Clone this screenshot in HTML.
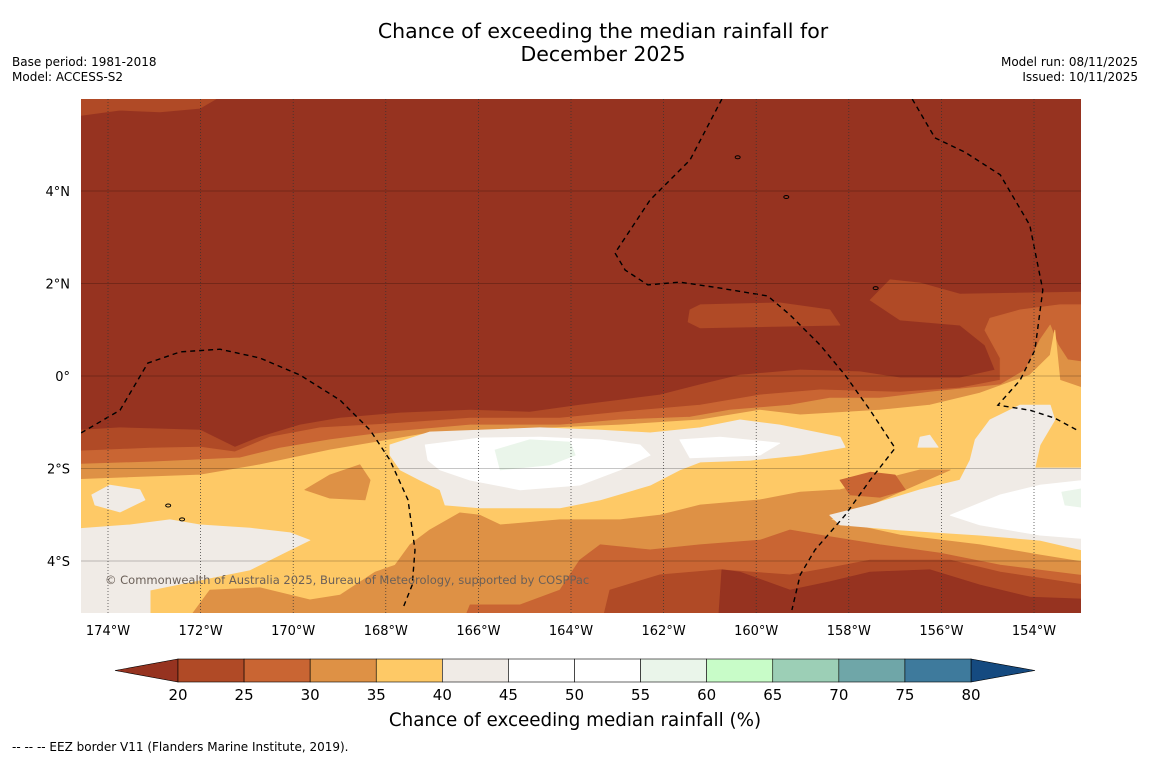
<!DOCTYPE html>
<html><head><meta charset="utf-8"><style>
body{margin:0;background:#fff;font-family:"DejaVu Sans","Liberation Sans",sans-serif;}
svg text{font-family:"DejaVu Sans","Liberation Sans",sans-serif;}
</style></head><body>
<svg id="chart" width="1150" height="758" xmlns="http://www.w3.org/2000/svg">
<rect x="0" y="0" width="1150" height="758" fill="#fff"/>
<text x="603" y="38" text-anchor="middle" font-size="20.5">Chance of exceeding the median rainfall for</text>
<text x="603" y="61" text-anchor="middle" font-size="20.5">December 2025</text>
<text x="12" y="66" font-size="12">Base period: 1981-2018</text>
<text x="12" y="81" font-size="12">Model: ACCESS-S2</text>
<text x="1138" y="66" font-size="12" text-anchor="end">Model run: 08/11/2025</text>
<text x="1138" y="81" font-size="12" text-anchor="end">Issued: 10/11/2025</text>
<defs><clipPath id="mapclip"><rect x="81" y="99" width="1000" height="514"/></clipPath></defs>
<g id="map" clip-path="url(#mapclip)"></g>
<g id="grid"></g>
<g id="axes"></g>
<text x="105" y="584" font-size="11.5" fill="#6b6058">© Commonwealth of Australia 2025, Bureau of Meteorology, supported by COSPPac</text>
<g id="cbar"></g>
<text x="575" y="726" text-anchor="middle" font-size="18.3">Chance of exceeding median rainfall (%)</text>
<text x="12" y="751" font-size="12">--  --  -- EEZ border V11 (Flanders Marine Institute, 2019).</text>
</svg>
<script>
const levels=[20,25,30,35,40,45,50,55,60,65,70,75,80];
const levelColors=["#b04a26","#c96533","#de9145","#fec966","#f0ebe6","#ffffff","#ffffff","#eaf5ea","#c8fcc8","#9ccfb6","#6fa6a8","#3e7a9c"];
const underColor="#963320", overColor="#154a80";
const lonTicks=[-174,-172,-170,-168,-166,-164,-162,-160,-158,-156,-154];
const latTicks=[4,2,0,-2,-4];
const p20=[[-174.58,-1.17],[-173.74,-1.12],[-172.01,-1.17],[-171.26,-1.54],[-170.72,-1.32],[-169.85,-1.06],[-168.99,-0.91],[-167.69,-0.80],[-166.18,-0.74],[-164.89,-0.78],[-163.81,-0.63],[-162.94,-0.52],[-162.08,-0.41],[-161.21,-0.19],[-160.35,0.02],[-159.05,0.13],[-157.76,0.09],[-156.89,-0.04],[-155.60,-0.04],[-154.84,0.13],[-155.06,0.67],[-155.60,1.10],[-156.89,1.21],[-157.54,1.64],[-157.11,2.08],[-156.46,2.01],[-155.60,1.77],[-152.5,1.82],[-152.5,-5.5],[-175,-5.5],[-175,-1.17]];
const p20b=[[-161.43,1.43],[-161.21,1.54],[-159.49,1.58],[-158.41,1.43],[-158.19,1.10],[-161.21,1.04],[-161.47,1.17]];
const p20c=[[-175,6.5],[-170.8,6.5],[-172.01,5.79],[-172.88,5.71],[-173.74,5.75],[-175,5.58]];
const p25=[[-175,-1.64],[-173.09,-1.56],[-172.01,-1.54],[-171.26,-1.64],[-170.50,-1.32],[-169.42,-1.12],[-167.69,-1.02],[-166.18,-0.91],[-164.24,-0.91],[-162.94,-0.78],[-161.21,-0.63],[-159.92,-0.41],[-158.62,-0.30],[-156.89,-0.35],[-155.60,-0.26],[-154.73,-0.09],[-154.73,0.39],[-155.06,0.99],[-154.95,1.25],[-154.30,1.43],[-153.44,1.54],[-152.5,1.54],[-152.5,-5.5],[-175,-5.5]];
const p30=[[-175,-1.92],[-173.09,-1.86],[-171.15,-1.77],[-170.29,-1.56],[-169.21,-1.38],[-167.91,-1.21],[-166.18,-1.06],[-164.24,-1.06],[-162.94,-0.95],[-161.43,-0.89],[-160.57,-0.74],[-159.27,-0.63],[-158.41,-0.48],[-157.33,-0.48],[-156.25,-0.35],[-154.73,-0.19],[-154.19,0.13],[-153.87,0.78],[-153.65,1.10],[-153.48,0.67],[-153.27,0.35],[-152.5,0.24],[-152.5,-5.5],[-175,-5.5]];
const p35=[[-175,-2.25],[-172.01,-2.14],[-170.72,-1.92],[-169.21,-1.60],[-167.91,-1.38],[-167.05,-1.23],[-165.53,-1.17],[-162.94,-1.06],[-161.21,-0.95],[-159.92,-0.74],[-159.05,-0.84],[-157.33,-0.74],[-156.25,-0.63],[-155.17,-0.37],[-154.09,0.02],[-153.65,0.45],[-153.55,0.99],[-153.44,-0.09],[-152.5,-0.41],[-152.5,-5.5],[-175,-5.5]];
const b30=[[-172.44,-5.5],[-171.80,-4.63],[-170.72,-4.58],[-169.64,-4.84],[-168.99,-4.74],[-168.23,-4.24],[-167.80,-4.09],[-167.48,-3.65],[-167.05,-3.33],[-166.40,-2.96],[-165.97,-3.01],[-165.53,-3.22],[-164.24,-3.11],[-162.94,-3.11],[-162.08,-3.01],[-161.21,-2.79],[-159.92,-2.68],[-159.05,-2.51],[-158.19,-2.46],[-157.33,-2.25],[-156.46,-2.03],[-155.81,-2.03],[-157.54,-2.79],[-158.41,-3.11],[-156.89,-3.44],[-155.17,-3.65],[-153.87,-3.87],[-152.5,-4.09],[-152.5,-5.5]];
const p30patch=[[-169.75,-2.46],[-169.21,-2.14],[-168.56,-1.92],[-168.34,-2.25],[-168.45,-2.68],[-169.21,-2.64]];
const b25=[[-166.40,-5.5],[-166.18,-4.95],[-165.10,-4.95],[-164.24,-4.63],[-163.81,-3.98],[-163.37,-3.65],[-162.29,-3.76],[-161.21,-3.65],[-159.92,-3.55],[-159.27,-3.33],[-158.62,-3.44],[-157.33,-3.65],[-156.03,-3.83],[-154.73,-4.09],[-152.5,-4.37],[-152.5,-5.5]];
const b25patch=[[-158.19,-2.25],[-157.54,-2.08],[-157.00,-2.14],[-156.78,-2.46],[-157.33,-2.62],[-157.97,-2.57]];
const b20=[[-163.37,-5.5],[-163.16,-4.63],[-162.08,-4.30],[-160.78,-4.19],[-159.27,-4.30],[-158.41,-4.15],[-157.54,-3.98],[-155.81,-3.98],[-154.73,-4.24],[-152.5,-4.58],[-152.5,-5.5]];
const b0=[[-160.83,-5.5],[-160.74,-4.19],[-160.35,-4.24],[-159.27,-4.63],[-158.41,-4.45],[-157.54,-4.24],[-156.25,-4.19],[-155.17,-4.52],[-154.09,-4.78],[-152.5,-4.84],[-152.5,-5.5]];
const p40left=[[-175,-3.33],[-173.52,-3.22],[-172.66,-3.11],[-172.01,-3.22],[-170.93,-3.29],[-170.07,-3.39],[-169.64,-3.55],[-170.07,-3.76],[-170.93,-4.19],[-172.01,-4.41],[-173.09,-4.63],[-173.09,-5.5],[-175,-5.5]];
const p40patch=[[-174.35,-2.57],[-173.96,-2.36],[-173.31,-2.46],[-173.20,-2.68],[-173.74,-2.94],[-174.28,-2.79]];
const p40center=[[-167.91,-1.49],[-167.05,-1.21],[-165.97,-1.17],[-164.67,-1.12],[-163.37,-1.17],[-162.29,-1.23],[-161.21,-1.12],[-160.35,-0.95],[-159.49,-1.06],[-158.19,-1.32],[-158.08,-1.54],[-159.05,-1.71],[-160.13,-1.82],[-161.21,-1.86],[-161.65,-2.03],[-162.29,-2.36],[-163.37,-2.68],[-164.24,-2.85],[-165.97,-2.85],[-166.72,-2.79],[-166.83,-2.46],[-167.26,-2.25],[-167.69,-2.03],[-167.91,-1.71]];
const p40right=[[-154.73,-0.84],[-154.30,-0.63],[-153.65,-0.63],[-153.55,-0.95],[-153.87,-1.49],[-153.98,-1.99],[-152.5,-1.99],[-152.5,-3.87],[-153.87,-3.55],[-155.17,-3.44],[-156.89,-3.33],[-158.19,-3.22],[-158.41,-3.01],[-157.54,-2.79],[-156.46,-2.46],[-155.60,-2.25],[-155.38,-1.82],[-155.27,-1.38],[-154.95,-0.95]];
const p40small=[[-156.46,-1.32],[-156.25,-1.28],[-156.07,-1.54],[-156.51,-1.54]];
const p45center=[[-167.15,-1.49],[-165.97,-1.34],[-164.67,-1.32],[-163.37,-1.38],[-162.51,-1.49],[-162.29,-1.71],[-162.94,-2.03],[-163.81,-2.36],[-165.10,-2.46],[-166.18,-2.25],[-166.83,-2.03],[-167.09,-1.82]];
const p45b=[[-161.65,-1.38],[-160.78,-1.32],[-159.49,-1.45],[-159.92,-1.71],[-161.43,-1.77]];
const p45right=[[-155.81,-3.01],[-154.73,-2.57],[-153.87,-2.36],[-152.5,-2.21],[-152.5,-3.55],[-153.87,-3.44],[-155.17,-3.22]];
const p55a=[[-165.64,-1.60],[-164.89,-1.38],[-164.02,-1.43],[-163.91,-1.71],[-164.45,-1.92],[-165.53,-2.03]];
const p55b=[[-153.40,-2.51],[-152.5,-2.36],[-152.5,-2.90],[-153.33,-2.79]];
const regions=[[0,p20],[0,p20b],[0,p20c],[1,p25],[2,p30],[3,p35],[2,b30],[2,p30patch],[1,b25],[1,b25patch],[0,b20],[-1,b0],[4,p40left],[4,p40patch],[4,p40center],[4,p40right],[4,p40small],[5,p45center],[5,p45b],[5,p45right],[7,p55a],[7,p55b]];
const eez1=[[-174.58,-1.23],[-173.74,-0.74],[-173.14,0.28],[-172.44,0.52],[-171.58,0.58],[-170.72,0.39],[-169.85,0.02],[-168.99,-0.52],[-168.34,-1.17],[-167.91,-1.82],[-167.52,-2.68],[-167.37,-3.76],[-167.43,-4.52],[-167.63,-5.02]];
const eez2=[[-160.74,5.99],[-161.43,4.67],[-162.29,3.81],[-163.05,2.66],[-162.83,2.29],[-162.34,1.97],[-161.65,2.03],[-160.78,1.90],[-159.75,1.73],[-159.27,1.32],[-158.62,0.67],[-158.08,0.02],[-157.54,-0.74],[-157.00,-1.56],[-157.54,-2.25],[-158.08,-3.01],[-158.73,-3.76],[-159.05,-4.30],[-159.23,-5.06]];
const eez3=[[-156.63,5.99],[-156.14,5.15],[-155.49,4.84],[-154.73,4.35],[-154.09,3.26],[-153.81,1.86],[-153.98,0.56],[-154.30,-0.09],[-154.78,-0.63],[-154.09,-0.74],[-153.55,-0.91],[-153.07,-1.17]];
const islands=[[-159.35,3.87],[-157.42,1.90],[-172.7,-2.8],[-172.4,-3.1],[-160.4,4.73]];

const NS="http://www.w3.org/2000/svg";
const xS=lon=>108+(lon+174)*46.3;
const yS=lat=>376-lat*46.25;
function mk(tag,parent,attrs){const e=document.createElementNS(NS,tag);for(const k in attrs)e.setAttribute(k,attrs[k]);parent.appendChild(e);return e;}
const map=document.getElementById('map');
const bg=mk('rect',map,{x:81,y:99,width:1000,height:514,fill:underColor});


const pts=a=>a.map(p=>xS(p[0]).toFixed(1)+','+yS(p[1]).toFixed(1)).join(' ');
regions.forEach(r=>{
  const col=r[0]<0?underColor:levelColors[r[0]];
  const el=mk('polygon',map,{points:pts(r[1]),fill:col,stroke:col,'stroke-width':0.8,'stroke-linejoin':'round'});
  
  
});
[eez1,eez2,eez3].forEach(a=>{
  const el=mk('polyline',map,{points:pts(a),fill:'none',stroke:'#000','stroke-width':1.4,'stroke-dasharray':'5,4'});
  
  
});
islands.forEach(p=>{
  const el=mk('ellipse',map,{cx:xS(p[0]),cy:yS(p[1]),rx:2.5,ry:1.5,fill:'none',stroke:'#000','stroke-width':1});
  
  
});
const grid=document.getElementById('grid'),axes=document.getElementById('axes');
lonTicks.forEach(l=>{
  const x=xS(l);
  const g=mk('line',grid,{x1:x,x2:x,y1:99,y2:613,stroke:'#333','stroke-width':0.7,'stroke-dasharray':'1,2'});
  
  
  const t=mk('text',axes,{x:x,y:635,'text-anchor':'middle','font-size':13});
  t.textContent=Math.abs(l)+'°W';
  
  
});
latTicks.forEach(l=>{
  const y=yS(l);
  const g=mk('line',grid,{x1:81,x2:1081,y1:y,y2:y,stroke:'#000','stroke-width':0.6,'stroke-opacity':0.45});
  
  
  const t=mk('text',axes,{x:70,y:y+5,'text-anchor':'end','font-size':13});
  t.textContent=l===0?'0°':Math.abs(l)+'°'+(l>0?'N':'S');
  
  
});
const cb=document.getElementById('cbar');
const cx=v=>178+(v-20)*(971-178)/60, cy0=659, ch=23;
const ul=mk('polygon',cb,{points:`${cx(20)},${cy0} ${cx(20)},${cy0+ch} 115,${cy0+ch/2}`,fill:underColor,stroke:'#000','stroke-width':0.6});


const ol=mk('polygon',cb,{points:`${cx(80)},${cy0} ${cx(80)},${cy0+ch} 1035,${cy0+ch/2}`,fill:overColor,stroke:'#000','stroke-width':0.6});


for(let i=0;i<levelColors.length;i++){
  const r=mk('rect',cb,{x:cx(levels[i]),y:cy0,width:cx(levels[i+1])-cx(levels[i]),height:ch,fill:levelColors[i],stroke:'#000','stroke-width':0.6});
  
  
}
levels.forEach(v=>{
  const t=mk('text',cb,{x:cx(v),y:700,'text-anchor':'middle','font-size':15});
  t.textContent=v;
  
  
});
</script>
</body></html>
